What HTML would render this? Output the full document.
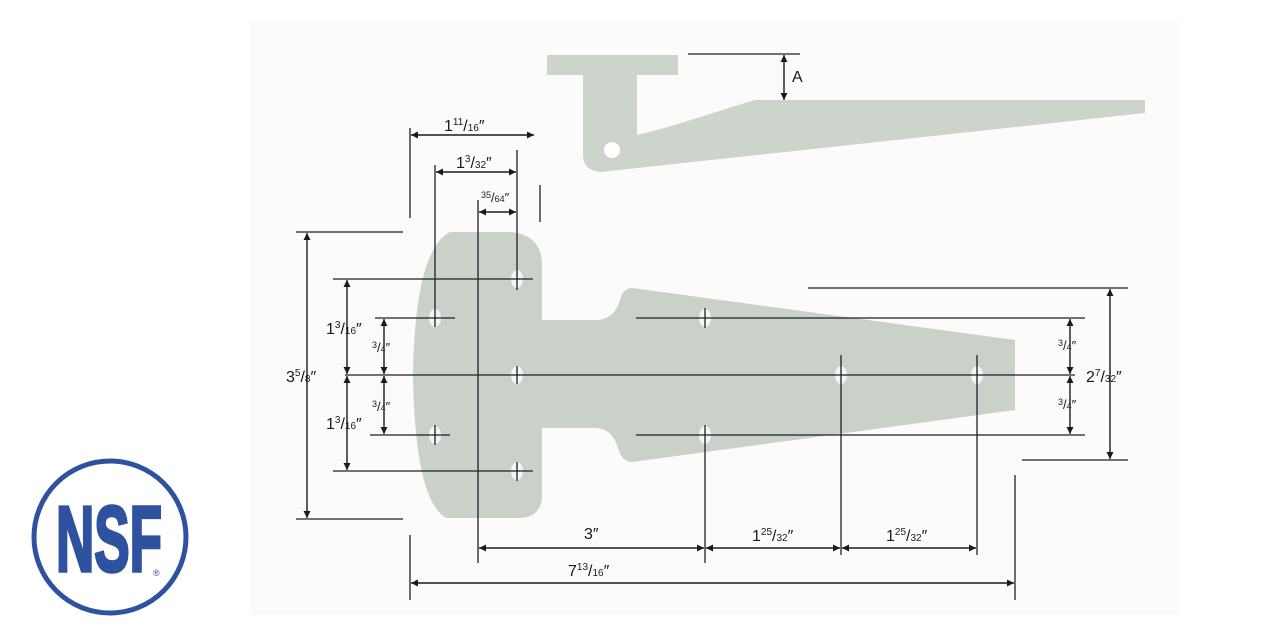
<!DOCTYPE html>
<html><head><meta charset="utf-8"><style>
html,body{margin:0;padding:0;background:#fff;}
svg{display:block;}
text{font-family:"Liberation Sans",sans-serif;fill:#1a1a1a;}
</style></head><body>
<svg width="1278" height="630" viewBox="0 0 1278 630" xmlns="http://www.w3.org/2000/svg">
<defs>
<marker id="a" viewBox="0 0 10 10" refX="10" refY="5" markerWidth="7" markerHeight="7" orient="auto-start-reverse" markerUnits="userSpaceOnUse"><path d="M0,0 L10,5 L0,10 z" fill="#1a1a1a"/></marker>
</defs>
<rect x="250" y="20" width="930" height="595" fill="#fbfbf9"/>
<!-- side view -->
<g fill="#ccd4cb">
<rect x="547" y="55" width="131" height="20"/>
<path d="M583,75 L637,75 L637,135 C680,125 720,110 755,100 L1145,100 L1145,113 L600,172 Q583,170 583,155 Z"/>
</g>
<circle cx="612" cy="150" r="8" fill="#fff"/>
<!-- main plate -->
<path fill="#c9d1c8" d="M450,232 L512,232 Q542,236 542,265 L542,320 L598,320 Q615,318 620,300 Q623,288 632,288 L1015,340 L1015,410 L632,462 Q622,462 618,448 Q612,428 595,428 L542,428 L542,498 Q540,518 518,518 L446,518 Q415,500 413,375 Q415,250 450,232 Z"/>
<g fill="#f4f6f2">
<ellipse cx="435" cy="318" rx="6" ry="9"/><ellipse cx="517" cy="279" rx="6" ry="9"/><ellipse cx="517" cy="375" rx="6" ry="9"/>
<ellipse cx="435" cy="435" rx="6" ry="9"/><ellipse cx="517" cy="471" rx="6" ry="9"/><ellipse cx="705" cy="318" rx="6" ry="9"/>
<ellipse cx="705" cy="435" rx="6" ry="9"/><ellipse cx="841" cy="375" rx="6" ry="9"/><ellipse cx="977" cy="375" rx="6" ry="9"/>
</g>
<g stroke="#1e1e2a" stroke-width="1.3" fill="none">
<line x1="688" y1="54" x2="800" y2="54"/>
<line x1="333" y1="279" x2="533" y2="279"/><line x1="375" y1="318" x2="455" y2="318"/>
<line x1="345" y1="375" x2="1075" y2="375"/><line x1="370" y1="435" x2="450" y2="435"/>
<line x1="333" y1="471" x2="533" y2="471"/>
<line x1="636" y1="318" x2="1085" y2="318"/><line x1="636" y1="435" x2="1085" y2="435"/>
<line x1="808" y1="288" x2="1128" y2="288"/><line x1="1022" y1="460" x2="1128" y2="460"/>
<line x1="296" y1="232" x2="403" y2="232"/><line x1="296" y1="519" x2="403" y2="519"/>
<line x1="410" y1="128" x2="410" y2="218"/><line x1="410" y1="535" x2="410" y2="600"/>
<line x1="435" y1="165" x2="435" y2="327"/><line x1="435" y1="425" x2="435" y2="445"/>
<line x1="517" y1="150" x2="517" y2="290"/><line x1="517" y1="366" x2="517" y2="384"/><line x1="517" y1="462" x2="517" y2="481"/>
<line x1="478" y1="200" x2="478" y2="563"/><line x1="540" y1="185" x2="540" y2="222"/>
<line x1="705" y1="308" x2="705" y2="328"/><line x1="705" y1="425" x2="705" y2="563"/>
<line x1="841" y1="355" x2="841" y2="555"/><line x1="977" y1="355" x2="977" y2="555"/>
<line x1="1015" y1="475" x2="1015" y2="600"/>
</g>
<g stroke="#1a1a1a" stroke-width="1.4" marker-start="url(#a)" marker-end="url(#a)">
<line x1="784" y1="55" x2="784" y2="100"/>
<line x1="411" y1="135" x2="534" y2="135"/>
<line x1="436" y1="172" x2="516" y2="172"/>
<line x1="479" y1="212" x2="516" y2="212"/>
<line x1="307" y1="233" x2="307" y2="518"/>
<line x1="347" y1="280" x2="347" y2="374"/><line x1="347" y1="376" x2="347" y2="470"/>
<line x1="384" y1="319" x2="384" y2="374"/><line x1="384" y1="376" x2="384" y2="434"/>
<line x1="1110" y1="289" x2="1110" y2="459"/>
<line x1="1070" y1="319" x2="1070" y2="374"/><line x1="1070" y1="376" x2="1070" y2="434"/>
<line x1="479" y1="548" x2="704" y2="548"/><line x1="706" y1="548" x2="840" y2="548"/><line x1="842" y1="548" x2="976" y2="548"/>
<line x1="411" y1="583" x2="1014" y2="583"/>
</g>
<g font-size="16">
<text x="792" y="82">A</text>
<text x="444" y="131">1<tspan font-size="10" dy="-6">11</tspan><tspan dy="6">/</tspan><tspan font-size="10">16</tspan>″</text>
<text x="456" y="168">1<tspan font-size="10" dy="-6">3</tspan><tspan dy="6">/</tspan><tspan font-size="10">32</tspan>″</text>
<text x="481" y="202" font-size="13"><tspan font-size="9" dy="-4">35</tspan><tspan dy="4">/</tspan><tspan font-size="9">64</tspan>″</text>
<text x="286" y="382">3<tspan font-size="10" dy="-6">5</tspan><tspan dy="6">/</tspan><tspan font-size="10">8</tspan>″</text>
<text x="326" y="334">1<tspan font-size="10" dy="-6">3</tspan><tspan dy="6">/</tspan><tspan font-size="10">16</tspan>″</text>
<text x="326" y="429">1<tspan font-size="10" dy="-6">3</tspan><tspan dy="6">/</tspan><tspan font-size="10">16</tspan>″</text>
<text x="372" y="352" font-size="13"><tspan font-size="9" dy="-4">3</tspan><tspan dy="4">/</tspan><tspan font-size="9">4</tspan>″</text>
<text x="372" y="411" font-size="13"><tspan font-size="9" dy="-4">3</tspan><tspan dy="4">/</tspan><tspan font-size="9">4</tspan>″</text>
<text x="1058" y="350" font-size="13"><tspan font-size="9" dy="-4">3</tspan><tspan dy="4">/</tspan><tspan font-size="9">4</tspan>″</text>
<text x="1058" y="409" font-size="13"><tspan font-size="9" dy="-4">3</tspan><tspan dy="4">/</tspan><tspan font-size="9">4</tspan>″</text>
<text x="1086" y="382">2<tspan font-size="10" dy="-6">7</tspan><tspan dy="6">/</tspan><tspan font-size="10">32</tspan>″</text>
<text x="584" y="539">3″</text>
<text x="752" y="541">1<tspan font-size="10" dy="-6">25</tspan><tspan dy="6">/</tspan><tspan font-size="10">32</tspan>″</text>
<text x="886" y="541">1<tspan font-size="10" dy="-6">25</tspan><tspan dy="6">/</tspan><tspan font-size="10">32</tspan>″</text>
<text x="568" y="576">7<tspan font-size="10" dy="-6">13</tspan><tspan dy="6">/</tspan><tspan font-size="10">16</tspan>″</text>
</g>
<!-- NSF logo -->
<circle cx="110" cy="537" r="76" fill="#fff" stroke="#2f52a0" stroke-width="5"/>
<text x="56" y="571" font-size="93" font-weight="bold" textLength="106" lengthAdjust="spacingAndGlyphs" stroke="#2f52a0" stroke-width="3.5" stroke-linejoin="miter" style="fill:#2f52a0">NSF</text>
<text x="153" y="576" font-size="9" style="fill:#2f52a0">®</text>
</svg>
</body></html>
